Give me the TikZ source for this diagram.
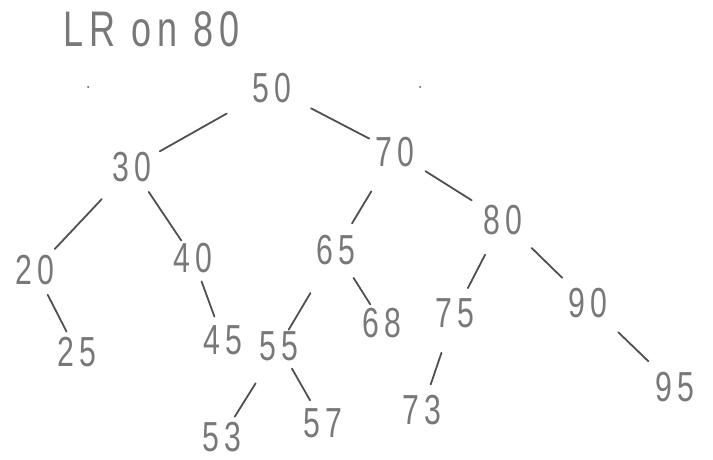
\documentclass[tikz,border=0pt]{standalone}
\usepackage{fontspec}
\setmainfont{Liberation Sans}[FakeStretch=0.72, LetterSpace=12]
\definecolor{pencil}{RGB}{120,120,120}
\definecolor{lead}{RGB}{80,80,80}

\begin{document}
\begin{tikzpicture}[x=1pt, y=-1pt,
        num/.style={text=pencil, inner sep=0pt, font=\fontsize{42}{42}\selectfont},
        edge/.style={draw=lead, line width=1.8pt, line cap=round}]
            \useasboundingbox (0,0) rectangle (713,460);
            \node[num, font=\fontsize{50}{50}\selectfont] (title) at (152,29) {LR on 80};
            \fill[lead] (88,87) circle (1pt) coordinate (dotl);
            \fill[lead] (420,87) circle (1pt) coordinate (dotr);
            \node[num] (n50) at (272,88) {50};
            \node[num] (n30) at (132,167) {30};
            \node[num] (n70) at (395,152) {70};
            \node[num] (n20) at (35,270) {20};
            \node[num] (n40) at (193,258) {40};
            \node[num] (n65) at (336,250) {65};
            \node[num] (n80) at (503,220) {80};
            \node[num] (n25) at (77,352) {25};
            \node[num] (n45) at (223,340) {45};
            \node[num] (n55) at (279,346) {55};
            \node[num] (n68) at (382,323) {68};
            \node[num] (n75) at (455,313) {75};
            \node[num] (n90) at (588,303) {90};
            \node[num] (n95) at (675,387) {95};
            \node[num] (n53) at (222,437) {53};
            \node[num] (n57) at (323,423) {57};
            \node[num] (n73) at (422,410) {73};
            \draw[edge, shorten <=52pt, shorten >=32pt] (n50.center) -- (n30.center);
            \draw[edge, shorten <=44pt, shorten >=29pt] (n50.center) -- (n70.center);
            \draw[edge, shorten <=44pt, shorten >=29pt] (n30.center) -- (n20.center);
            \draw[edge, shorten <=30pt, shorten >=21pt] (n30.center) -- (n40.center);
            \draw[edge, shorten <=46pt, shorten >=31pt] (n70.center) -- (n65.center);
            \draw[edge, shorten <=36pt, shorten >=37pt] (n70.center) -- (n80.center);
            \draw[edge, shorten <=28pt, shorten >=23pt] (n20.center) -- (n25.center);
            \draw[edge, shorten <=25pt, shorten >=25pt] (n40.center) -- (n45.center);
            \draw[edge, shorten <=50pt, shorten >=19pt] (n65.center) -- (n55.center);
            \draw[edge, shorten <=33pt, shorten >=22pt] (n65.center) -- (n68.center);
            \draw[edge, shorten <=39pt, shorten >=28pt] (n80.center) -- (n75.center);
            \draw[edge, shorten <=40pt, shorten >=36pt] (n80.center) -- (n90.center);
            \draw[edge, shorten <=42pt, shorten >=37pt] (n90.center) -- (n95.center);
            \draw[edge, shorten <=44pt, shorten >=24pt] (n55.center) -- (n53.center);
            \draw[edge, shorten <=26pt, shorten >=26pt] (n55.center) -- (n57.center);
            \draw[edge, shorten <=42pt, shorten >=27pt] (n75.center) -- (n73.center);
        \end{tikzpicture}
\end{document}
